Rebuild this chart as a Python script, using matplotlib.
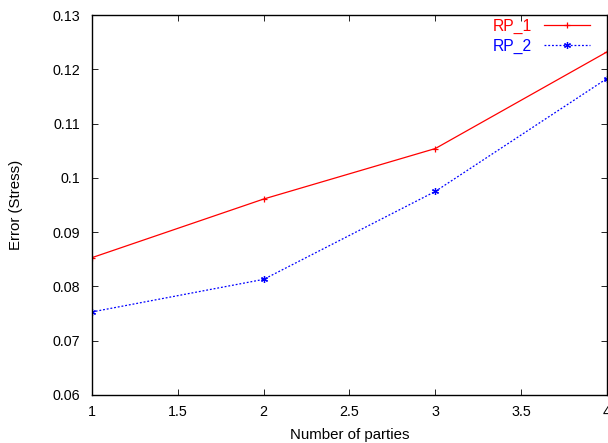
import matplotlib
matplotlib.use("Agg")
import matplotlib.pyplot as plt

parties = [1, 2, 3, 4]
rp1 = [0.0853, 0.0961, 0.1054, 0.1232]
rp2 = [0.0753, 0.0813, 0.0975, 0.1183]

plt.rcParams["font.family"] = ["Liberation Sans", "DejaVu Sans"]
plt.rcParams["font.size"] = 10.3

fig = plt.figure(figsize=(6.08, 4.43), dpi=100)
ax = fig.add_axes([0.1513, 0.1084, 0.8470, 0.8577])

ax.plot(parties, rp1, color="red", lw=0.9, marker="+", ms=5, mew=0.9, label="RP_1")
ax.plot(parties, rp2, color="blue", lw=0.9, ls=(0, (1.5, 1.5)), marker=(6, 2, 0), ms=5,
        mew=0.9, label="RP_2")

ax.set_xlim(1, 4)
ax.set_ylim(0.06, 0.13)
ax.set_xticks([1, 1.5, 2, 2.5, 3, 3.5, 4])
ax.set_xticklabels(["1", "1.5", "2", "2.5", "3", "3.5", "4"])
ax.set_yticks([0.06, 0.07, 0.08, 0.09, 0.1, 0.11, 0.12, 0.13])
ax.set_yticklabels(["0.06", "0.07", "0.08", "0.09", "0.1", "0.11", "0.12", "0.13"])
ax.tick_params(direction="in", top=True, right=True, length=4, width=0.6)
ax.tick_params(axis="y", pad=8.5)
ax.tick_params(axis="x", pad=7)
for s in ax.spines.values():
    s.set_linewidth(1.0)

ax.set_xlabel("Number of parties", fontsize=10.8, labelpad=7)
ax.set_ylabel("Error (Stress)", fontsize=10.8)
ax.yaxis.set_label_coords(-0.134, 0.5)

leg = ax.legend(loc="upper right", bbox_to_anchor=(0.967, 0.99), frameon=False,
                markerfirst=False, labelcolor="linecolor", fontsize=11.3,
                handlelength=2.9, borderaxespad=0, borderpad=0, handletextpad=0.8,
                labelspacing=0.3)

fig.savefig("out.png", dpi=100)
